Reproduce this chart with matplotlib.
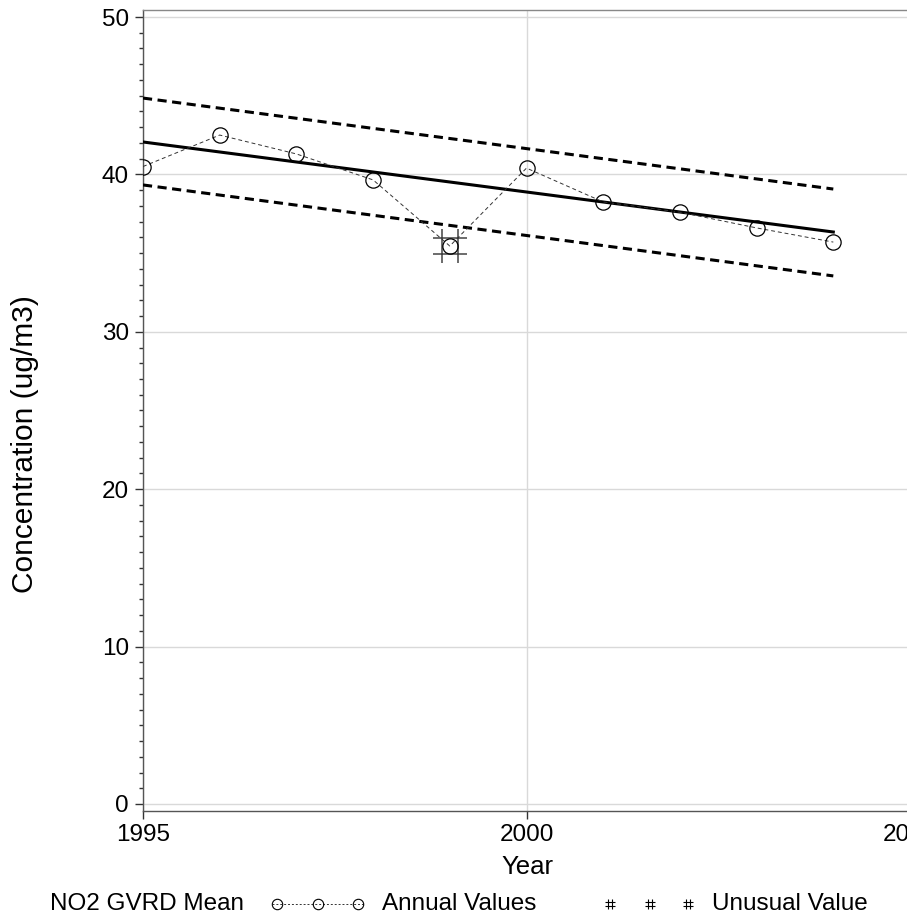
import matplotlib
matplotlib.use("Agg")
import matplotlib.pyplot as plt
from matplotlib.path import Path
from matplotlib.lines import Line2D
import numpy as np

plt.rcParams['font.family'] = ['Liberation Sans', 'DejaVu Sans']

years = [1995, 1996, 1997, 1998, 1999, 2000, 2001, 2002, 2003, 2004]
annual_values = [40.5, 42.5, 41.3, 39.65, 35.45, 40.4, 38.25, 37.6, 36.6, 35.7]
unusual_years = [1999]
unusual_values = [35.45]
trend_years = [1995, 2004]
trend_mean = [42.06, 36.34]
trend_upper = [44.85, 39.07]
trend_lower = [39.33, 33.55]
x_ticks = [1995, 2000, 2005]
y_ticks = [0, 10, 20, 30, 40, 50]

W, H = 907, 921
fig = plt.figure(figsize=(W / 100, H / 100), dpi=100)
ax = fig.add_axes([143 / W, (H - 811) / H, (910 - 143) / W, (811 - 10) / H])

ax.set_xlim(1995, 2005)
ax.set_ylim(-0.445, 50.445)

# grid
ax.set_axisbelow(True)
ax.grid(True, color='#d9d9d9', lw=1.0)

# trend + confidence lines
ax.plot(trend_years, trend_upper, color='black', lw=2.2, ls=(0, (3, 1.8)), zorder=3)
ax.plot(trend_years, trend_lower, color='black', lw=2.2, ls=(0, (3, 1.8)), zorder=3)
ax.plot(trend_years, trend_mean, color='black', lw=2.2, zorder=3)

# hash marker path
hv = []
hc = []
for x in (-0.47, 0.47):
    hv += [(x, -1), (x, 1)]
    hc += [Path.MOVETO, Path.LINETO]
for y in (-0.47, 0.47):
    hv += [(-1, y), (1, y)]
    hc += [Path.MOVETO, Path.LINETO]
hash_path = Path(hv, hc)

ax.plot(unusual_years, unusual_values, ls='none', marker=hash_path, markersize=25,
        markeredgecolor='#444444', markeredgewidth=1.1, zorder=4)

ax.plot(years, annual_values, color='#333333', lw=0.7, ls=(0, (4, 3)),
        marker='o', markersize=11, markerfacecolor='none', markeredgecolor='black',
        markeredgewidth=0.9, zorder=5)

# spines & ticks
for s in ['left', 'bottom', 'top', 'right']:
    ax.spines[s].set_color('#555555')
    ax.spines[s].set_linewidth(1.0)
ax.spines['top'].set_color('#888888')

ax.set_xticks(x_ticks)
ax.set_xticklabels([str(v) for v in x_ticks])
ax.set_yticks(y_ticks)
ax.set_yticks(np.arange(0, 51, 1), minor=True)
ax.tick_params(axis='both', which='major', labelsize=17.5, length=6, width=1, color='#333333')
ax.tick_params(axis='y', which='minor', length=3, width=1, color='#333333')
ax.tick_params(axis='x', which='major', pad=3)
ax.tick_params(axis='y', which='major', pad=4)

fig.text(527 / W, 1 - 867 / H, 'Year', ha='center', va='center', fontsize=18.5)
fig.text(25 / W, 1 - 444 / H, 'Concentration (ug/m3)', ha='center', va='center',
         rotation=90, fontsize=21.5)

# legend
ly = 1 - 904 / H
fig.text(50 / W, ly, 'NO2 GVRD Mean', ha='left', va='center', fontsize=17.5)
fig.add_artist(Line2D(np.array([272, 365]) / W, [ly, ly], color='#333333', lw=0.7,
                      ls=(0, (2, 2))))
fig.add_artist(Line2D(np.array([277, 318, 358]) / W, [ly] * 3, ls='none', marker='o',
                      markersize=7.5, markerfacecolor='none', markeredgecolor='black',
                      markeredgewidth=0.8))
fig.text(382 / W, ly, 'Annual Values', ha='left', va='center', fontsize=17.5)
fig.add_artist(Line2D(np.array([610, 650, 688]) / W, [ly] * 3, ls='none', marker=hash_path,
                      markersize=7, markeredgecolor='black', markeredgewidth=0.8))
fig.text(712 / W, ly, 'Unusual Value', ha='left', va='center', fontsize=17.5)

fig.savefig('out.png', dpi=100)
